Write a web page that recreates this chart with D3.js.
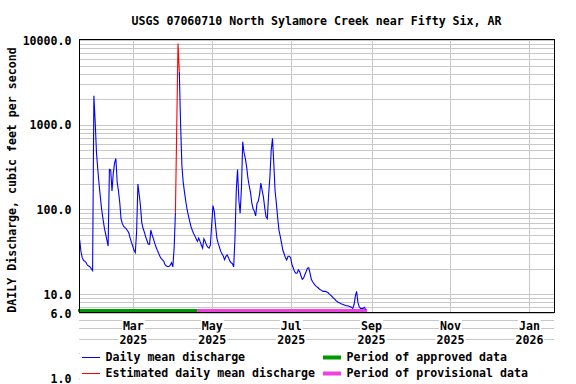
<!DOCTYPE html>
<html>
<head>
<meta charset="utf-8">
<script src="https://cdn.jsdelivr.net/npm/d3@7"></script>
<style>
  body { margin: 0; background: #fff; }
  svg text { font-family: 'DejaVu Sans Mono', monospace; font-weight: bold; font-size: 11.6px; fill: #000; }
</style>
</head>
<body>
<svg id="chart" width="576" height="384"></svg>
<script>
// daily mean discharge, cfs, one value per day starting 2025-01-18
const firstDay = '2025-01-18T12:00Z';
const flow = [
  44, 32, 27, 25, 24.5, 23.5, 22, 21.5, 21, 20,            // 0
  19, 2200, 1080, 470, 300, 200, 140, 100, 78, 62,         // 10
  52, 44, 37, 297, 292, 165, 270, 355, 400, 210,           // 20
  165, 120, 77, 68, 63, 61, 59, 56, 53, 46,                // 30
  41, 37, 33, 31, 54, 200, 150, 110, 70, 60,               // 40
  54, 47.5, 43, 39, 39, 57, 50, 45, 40, 36,                // 50
  33, 30.5, 28, 26.5, 25.5, 24.5, 22.3, 21.5, 21.2, 21.2,  // 60
  22, 23.5, 21, 35, 92, 910, 9100, 4230, 1000, 330,        // 70
  210, 160, 125, 100, 85, 73, 63, 57, 52, 49,              // 80
  45, 42, 46, 42, 38, 35, 45, 42, 38, 36,                  // 90
  35, 38, 65, 111, 95, 65, 46, 40, 36, 32,                 // 100
  30, 28, 25.5, 28, 29, 27, 24.7, 23.5, 23, 21,            // 110
  45, 165, 297, 130, 90, 177, 630, 470, 400, 320,          // 120
  235, 190, 160, 120, 102, 95, 84, 118, 125, 150,          // 130
  205, 168, 140, 105, 82, 78, 148, 243, 500, 690,          // 140
  350, 165, 118, 80, 57, 48, 40, 33, 30, 27,               // 150
  25.4, 28, 28, 27, 22.5, 20.5, 18.5, 17.7, 17.7, 19.4,    // 160
  18.5, 16.5, 15, 15.5, 17, 18.5, 20.3, 20.5, 17.7, 15,    // 170
  14, 13.3, 12.7, 12.3, 12, 11.6, 11.3, 11.1, 10.8, 10.8,  // 180
  10.8, 10.6, 10.4, 10, 9.7, 9.4, 9, 8.8, 8.4, 8.2,        // 190
  8, 7.9, 7.7, 7.6, 7.5, 7.4, 7.3, 7.3, 7.2, 7.1,          // 200
  7, 6.8, 7.5, 9.5, 10.8, 8, 7.1, 6.8, 6.8, 6.8,           // 210
  7, 6.6                                                   // 220
];
const estimatedIdx = [75, 76];

const approvedPeriod = ['2025-01-17T12:00Z', '2025-04-19T12:00Z'];
const provisionalPeriod = ['2025-04-19T12:00Z', '2025-08-28T12:00Z'];

const monthTicks = ['2025-03-01', '2025-05-01', '2025-07-01', '2025-09-01', '2025-11-01', '2026-01-01'];
const monthNames = ['Mar', 'May', 'Jul', 'Sep', 'Nov', 'Jan'];
const yearNames = ['2025', '2025', '2025', '2025', '2025', '2026'];
const yTicks = [10000, 1000, 100, 10, 6, 1];

const dayMs = 86400000;
const t0 = new Date(firstDay).getTime();
const data = flow.map((v, i) => ({ date: new Date(t0 + i * dayMs), value: v, i: i }));

const svg = d3.select('#chart');
const plotL = 79, plotR = 554, plotT = 40, plotB = 313;

const x = d3.scaleUtc()
  .domain([new Date('2025-01-18T00:00Z'), new Date('2026-01-20T00:00Z')])
  .range([plotL, plotR]);
const y = d3.scaleLog()
  .domain([6, 10000])
  .range([plotB, plotT]);

svg.append('rect').attr('width', 576).attr('height', 384).attr('fill', '#fff');

// log gridlines, drawn for the whole 1..10000 range like the original
const gridVals = [];
for (let p = 0; p < 4; p++) {
  for (let k = 1; k <= 9; k++) gridVals.push(k * Math.pow(10, p));
}
gridVals.push(10000);
svg.append('g')
  .selectAll('line')
  .data(gridVals)
  .enter()
  .append('line')
  .attr('x1', plotL).attr('x2', plotR)
  .attr('y1', d => Math.round(y(d)) + 0.5)
  .attr('y2', d => Math.round(y(d)) + 0.5)
  .attr('stroke', '#c8c8c8')
  .attr('shape-rendering', 'crispEdges');

svg.append('g')
  .selectAll('line')
  .data(monthTicks)
  .enter()
  .append('line')
  .attr('x1', d => Math.round(x(new Date(d + 'T00:00Z'))) + 0.5)
  .attr('x2', d => Math.round(x(new Date(d + 'T00:00Z'))) + 0.5)
  .attr('y1', plotT).attr('y2', plotB)
  .attr('stroke', '#c8c8c8')
  .attr('shape-rendering', 'crispEdges');

// approval status bars
[[approvedPeriod, '#009900'], [provisionalPeriod, '#f040e0']].forEach(([p, c]) => {
  const x0 = x(new Date(p[0])), x1 = x(new Date(p[1]));
  svg.append('rect')
    .attr('x', x0).attr('y', 309)
    .attr('width', x1 - x0).attr('height', 3)
    .attr('fill', c)
    .attr('shape-rendering', 'crispEdges');
});

// data lines
const isEst = i => estimatedIdx.includes(i);
const line = d3.line()
  .x(d => x(d.date))
  .y(d => y(d.value));

svg.append('path')
  .datum(data)
  .attr('d', line.defined(d => !isEst(d.i)))
  .attr('fill', 'none')
  .attr('stroke', '#0000ff')
  .attr('stroke-width', 1.1);

const estStart = d3.min(estimatedIdx) - 1, estEnd = d3.max(estimatedIdx) + 1;
svg.append('path')
  .datum(data.slice(estStart, estEnd + 1))
  .attr('d', d3.line().x(d => x(d.date)).y(d => y(d.value)))
  .attr('fill', 'none')
  .attr('stroke', '#ff0000')
  .attr('stroke-width', 1.1);

// frame
svg.append('rect')
  .attr('x', plotL + 0.5).attr('y', plotT - 0.5)
  .attr('width', plotR - plotL).attr('height', plotB - plotT)
  .attr('fill', 'none')
  .attr('stroke', '#000')
  .attr('shape-rendering', 'crispEdges');

// x labels with white boxes behind them
monthTicks.forEach((m, k) => {
  const cx = x(new Date(m + 'T00:00Z'));
  [[monthNames[k], 329.5], [yearNames[k], 343.5]].forEach(([txt, by]) => {
    const g = svg.append('g');
    const t = g.append('text')
      .attr('x', cx).attr('y', by)
      .attr('text-anchor', 'middle')
      .text(txt);
    const b = t.node().getBBox();
    g.insert('rect', 'text')
      .attr('x', b.x - 1).attr('y', b.y)
      .attr('width', b.width + 2).attr('height', b.height)
      .attr('fill', '#fff');
  });
});

// y labels
svg.append('g')
  .selectAll('text')
  .data(yTicks)
  .enter()
  .append('text')
  .attr('x', 71.5)
  .attr('y', d => Math.min(y(d) + 4.5, 382.5))
  .attr('text-anchor', 'end')
  .text(d => d.toFixed(1));

svg.append('text')
  .attr('x', (plotL + plotR) / 2)
  .attr('y', 24.5)
  .attr('text-anchor', 'middle')
  .text('USGS 07060710 North Sylamore Creek near Fifty Six, AR');

svg.append('text')
  .attr('transform', 'translate(16,180) rotate(-90)')
  .attr('text-anchor', 'middle')
  .text('DAILY Discharge, cubic feet per second');

// legend
const lg = svg.append('g');
lg.append('rect')
  .attr('x', plotL + 1).attr('y', 346)
  .attr('width', plotR - plotL - 1).attr('height', 38)
  .attr('fill', '#fff');

const legendItems = [
  { label: 'Daily mean discharge', color: '#0000ff', kind: 'line', col: 0, row: 0 },
  { label: 'Estimated daily mean discharge', color: '#ff0000', kind: 'line', col: 0, row: 1 },
  { label: 'Period of approved data', color: '#009900', kind: 'bar', col: 1, row: 0 },
  { label: 'Period of provisional data', color: '#f040e0', kind: 'bar', col: 1, row: 1 }
];
legendItems.forEach(it => {
  const sx = it.col === 0 ? 82 : 323;
  const cy = 357 + it.row * 15.5;
  if (it.kind === 'line') {
    lg.append('rect')
      .attr('x', sx).attr('y', Math.round(cy))
      .attr('width', 18).attr('height', 1)
      .attr('fill', it.color);
  } else {
    lg.append('rect')
      .attr('x', sx).attr('y', Math.round(cy) - 1.5)
      .attr('width', 18).attr('height', 4)
      .attr('fill', it.color);
  }
  lg.append('text')
    .attr('x', sx + 23.5)
    .attr('y', cy + 4)
    .text(it.label);
});
</script>
</body>
</html>
